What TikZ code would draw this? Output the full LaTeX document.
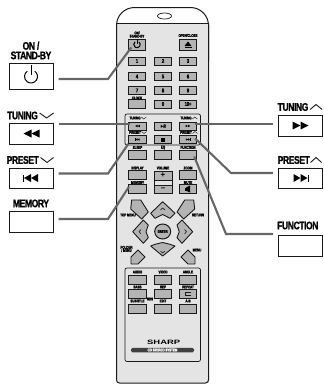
\documentclass[tikz,border=0pt]{standalone}
\usepackage{fontspec}
\setmainfont{Liberation Sans}
\newfontfamily\calloutfont[LetterSpace=-4,FakeStretch=0.78,FakeBold=1.2]{Liberation Sans Bold}
\newfontfamily\brandfont[FakeStretch=1.5]{Liberation Sans Bold}
\usetikzlibrary{arrows.meta, positioning, calc, shapes.geometric}
\definecolor{shellgray}{HTML}{E4E4E4}
\definecolor{keygray}{HTML}{B4B4B4}
\definecolor{leadergray}{HTML}{666666}
\definecolor{inkblack}{HTML}{1A1A1A}
\tikzset{
  callbox/.style={draw=inkblack, fill=white, line width=1pt, minimum width=44pt, minimum height=21pt, inner sep=0pt},
  calltext/.style={inner sep=0pt, align=center, text=black, font=\calloutfont\fontsize{11}{9.5}\selectfont},
  rkey/.style={draw=inkblack, fill=keygray, line width=0.9pt, minimum width=17.5pt, minimum height=8pt, inner sep=0pt, font=\calloutfont\fontsize{5.6}{5}\selectfont},
  tinytext/.style={inner sep=0pt, align=center, font=\calloutfont\fontsize{4}{3.2}\selectfont},
  leader/.style={draw=leadergray, line width=2.1pt},
  chevron/.style={draw=inkblack, line width=0.9pt},
  navkey/.style={draw=inkblack, fill=keygray, line width=0.9pt, line join=round},
  pics/rewind/.style={code={
    \fill (0,-4) -- (-8,0) -- (0,4) -- cycle;
    \fill (8,-4) -- (0,0) -- (8,4) -- cycle;
  }},
  pics/forward/.style={code={
    \fill (0,-4) -- (8,0) -- (0,4) -- cycle;
    \fill (-8,-4) -- (0,0) -- (-8,4) -- cycle;
  }},
  pics/skipback/.style={code={
    \fill (0,-4) -- (-7,0) -- (0,4) -- cycle;
    \fill (7,-4) -- (0,0) -- (7,4) -- cycle;
    \fill (-8,-3.5) rectangle (-7,3.5);
  }},
  pics/skipnext/.style={code={
    \fill (0,-4) -- (7,0) -- (0,4) -- cycle;
    \fill (-7,-4) -- (0,0) -- (-7,4) -- cycle;
    \fill (7,-3.5) rectangle (8,3.5);
  }},
  pics/standby/.style={code={
    \draw[line width=1pt] (0,-11.5) -- (0,-1.5);
    \draw[line width=1pt] (-55:6.5) arc[start angle=-55, end angle=235, radius=6.5];
  }}
}
\begin{document}
\begin{tikzpicture}[x=1pt, y=-1pt]
  \useasboundingbox (0,0) rectangle (324,384);

  % remote shell
  \draw[inkblack, line width=1pt, fill=white] (116.5,60) [rounded corners=18pt] -- (116.5,7.5) -- (208.5,7.5) [rounded corners=0pt] -- (208.5,60) -- cycle;
  \fill[shellgray] (116.5,23) rectangle (208.5,383);
  \draw[inkblack, line width=1pt] (116.5,23) -- (208.5,23);
  \draw[inkblack, line width=1pt] (116.5,23) -- (116.5,380) [rounded corners=3pt] -- (116.5,383) -- (208.5,383) [rounded corners=0pt] -- (208.5,23);
  \node[draw=inkblack, line width=0.7pt, ellipse, fill=white, minimum width=14pt, minimum height=6pt, inner sep=0pt] (sensor) at (164.5,16) {};

  % key frames
  \draw[inkblack, line width=0.7pt, rounded corners=2pt] (125,145) -- (125,114) -- (200.5,114) -- (200.5,145) -- cycle;
  \draw[inkblack, line width=0.7pt, rounded corners=2pt] (125,268) rectangle (200.5,361.5);

  % top keys
  \node[rkey, minimum height=11pt] (keyon) at (137,44.5) {};
  \node[rkey, minimum height=11pt] (keyopen) at (188,44.5) {};
  \pic[scale=0.5] at (137,44.5) {standby};
  \fill (188,41.5) -- (191.5,46) -- (184.5,46) -- cycle;
  \fill (184.5,47) rectangle (191.5,48);
  \node[tinytext] at (137,34.5) {ON/\\STAND-BY};
  \node[tinytext] at (188,35.5) {OPEN/CLOSE};

  % number keys
  \foreach \rowy/\lefttxt/\midtxt/\righttxt in {61/1/2/3, 76.5/4/5/6, 90.5/7/8/9} {
    \node[rkey] (keyl\lefttxt) at (137,\rowy) {\lefttxt};
    \node[rkey] (keym\midtxt) at (163,\rowy) {\midtxt};
    \node[rkey] (keyr\righttxt) at (188,\rowy) {\righttxt};
  }
  \node[rkey, minimum height=9pt] (keyshift) at (137,104) {};
  \node[rkey] (keyzero) at (163,104) {0};
  \node[rkey] (keyten) at (188,104) {10+};
  \node[tinytext] at (137,98) {CLOCK};

  % transport keys
  \node[rkey] (keyrew) at (137.5,126) {};
  \node[rkey, font=\calloutfont\fontsize{4.4}{4}\selectfont] (keyplay) at (163,126) {►/II};
  \node[rkey] (keyffw) at (188,126) {};
  \node[rkey] (keyprev) at (137.5,139.5) {};
  \node[rkey] (keystop) at (163,139.5) {};
  \node[rkey] (keynext) at (188,139.5) {};
  \pic[scale=0.3] at (137.5,126) {rewind};
  \pic[scale=0.3] at (188,126) {forward};
  \pic[scale=0.3] at (137.5,139.5) {skipback};
  \pic[scale=0.3] at (188,139.5) {skipnext};
  \fill (161,137.5) rectangle (165,141.5);
  \node[tinytext] (lbltune) at (135,118) {TUNING};
  \node[tinytext] (lbltunr) at (186,118) {TUNING};
  \node[tinytext] (lblpres) at (135,132.5) {PRESET};
  \node[tinytext] (lblprer) at (186,132.5) {PRESET};
  \draw[chevron, line width=0.5pt] ($(lbltune.east)+(0.5,-1)$) -- ++(2.5,2) -- ++(2.5,-2);
  \draw[chevron, line width=0.5pt] ($(lbltunr.east)+(0.5,1)$) -- ++(2.5,-2) -- ++(2.5,2);
  \draw[chevron, line width=0.5pt] ($(lblpres.east)+(0.5,-1)$) -- ++(2.5,2) -- ++(2.5,-2);
  \draw[chevron, line width=0.5pt] ($(lblprer.east)+(0.5,1)$) -- ++(2.5,-2) -- ++(2.5,2);

  % function row and volume
  \foreach \colx/\keytxt/\keyname in {137.5/SLEEP/sleep, 163/EQ/eq, 188/FUNCTION/func} {
    \node[rkey, minimum height=9pt] (key\keyname) at (\colx,154.5) {};
    \node[tinytext] at (\colx,147.5) {\keytxt};
  }
  \foreach \colx/\keytxt/\keyname in {137.5/DISPLAY/disp, 188/ZOOM/zoom} {
    \node[rkey, minimum height=9pt] (key\keyname) at (\colx,175) {};
    \node[tinytext] at (\colx,168) {\keytxt};
  }
  \node[rkey, minimum height=9pt] (keymem) at (137.5,189) {};
  \node[rkey, minimum height=9pt] (keymute) at (188,189) {};
  \node[tinytext] at (137.5,182.5) {MEMORY};
  \node[tinytext] at (188,182.5) {MUTE};
  \node[tinytext] at (163,168) {VOLUME};
  \draw[inkblack, line width=0.8pt, fill=keygray] (154,171) rectangle (172,193);
  \draw[inkblack, line width=0.8pt, fill=shellgray] (154,180) rectangle (172,185);
  \node[inner sep=0pt, font=\bfseries\fontsize{8}{8}\selectfont] (keyplus) at (163,175.2) {+};
  \node[inner sep=0pt, font=\bfseries\fontsize{8}{8}\selectfont] (keyminus) at (163,189) {--};
  \fill (184.5,187.5) rectangle (186.5,190.5);
  \fill (186,187.5) -- (190,185.5) -- (190,192.5) -- (186,190.5) -- cycle;

  % navigation keys
  \draw[navkey] (162.7,201.7) -- (175,213.3) -- (170,218.3) -- (162.7,214.5) -- (155,218.3) -- (150.7,213.3) -- cycle;
  \draw[navkey] (162.7,256) -- (175,246) -- (170,244.3) -- (162.7,242.5) -- (155,244.3) -- (150.7,246) -- cycle;
  \draw[navkey] (132.7,231.7) -- (143.3,220) -- (148.3,225) -- (146,231.7) -- (148.3,237.7) -- (143.3,243.3) -- cycle;
  \draw[navkey] (192.7,231.7) -- (182,220) -- (177,225) -- (179.3,231.7) -- (177,237.7) -- (182,243.3) -- cycle;
  \draw[navkey] (131.7,200) -- (140.7,200) -- (148.3,212) -- (141.7,219) -- (130.7,209) -- cycle;
  \draw[navkey] (193.7,200) -- (184.7,200) -- (177,212) -- (183.7,219) -- (194.7,209) -- cycle;
  \draw[navkey] (138,250) -- (131,257) -- (131,264) -- (138,264) -- (145,257) -- cycle;
  \draw[navkey] (188,250) -- (195,257) -- (195,264) -- (188,264) -- (181,257) -- cycle;
  \node[draw=inkblack, fill=keygray, ellipse, line width=1pt, minimum width=16pt, minimum height=15pt, inner sep=0pt, font=\calloutfont\fontsize{4}{3}\selectfont] (keyenter) at (162.7,231.5) {ENTER};
  \draw[chevron, line width=0.6pt] (160.5,210) -- (162.7,208) -- (165,210);
  \draw[chevron, line width=0.6pt] (160.5,251) -- (162.7,253) -- (165,251);
  \draw[chevron, line width=0.6pt] (141,229.5) -- (139,231.7) -- (141,234);
  \draw[chevron, line width=0.6pt] (184.5,229.5) -- (186.5,231.7) -- (184.5,234);
  \node[tinytext] at (128,215) {TOP MENU};
  \node[tinytext] at (198,215) {RETURN};
  \node[tinytext] at (126.5,249) {FOLDER\\/ MENU};
  \node[tinytext] at (197,250) {MENU};

  % lower keys
  \foreach \rowy/\labely/\txta/\txtb/\txtc [count=\rowi] in {279.5/272/AUDIO/VIDEO/ANGLE, 294/287/BASS/REP/REPEAT, 308.5/301/SUBTITLE/EDIT/A-B} {
    \node[rkey, minimum height=9pt] (keya\rowi) at (137.5,\rowy) {};
    \node[rkey, minimum height=9pt] (keyb\rowi) at (163,\rowy) {};
    \node[rkey, minimum height=9pt] (keyc\rowi) at (188,\rowy) {};
    \node[tinytext] at (137.5,\labely) {\txta};
    \node[tinytext] at (163,\labely) {\txtb};
    \node[tinytext] at (188,\labely) {\txtc};
  }
  \draw[inkblack, line width=0.6pt] (191,292.5) -- (185,292.5) -- (185,295.5) -- (191,295.5);
  \node[tinytext] at (150,299) {RDS};
  \node[inner sep=0pt, font=\brandfont\fontsize{6.3}{6.3}\selectfont] (brand) at (163.7,342) {SHARP};
  \node[fill=black!75, rounded corners=1.5pt, minimum width=63pt, minimum height=4.5pt, inner sep=0pt, text=white, font=\calloutfont\fontsize{4}{3.4}\selectfont] (brandbar) at (162.5,350) {CD STEREO SYSTEM};

  % left callouts
  \node[callbox, minimum height=26pt] (boxon) at (31,76) {};
  \pic at (31,76.5) {standby};
  \node[calltext, above=3pt of boxon] (txton) {ON /\\STAND-BY};
  \node[callbox] (boxrew) at (31,133.5) {};
  \pic at (31.5,133.5) {rewind};
  \node[calltext, anchor=west] (txtrew) at (7,115.5) {TUNING};
  \node[callbox, minimum height=20pt] (boxprev) at (31,178) {};
  \pic at (31,178) {skipback};
  \node[calltext, anchor=west] (txtprev) at (6.5,160) {PRESET};
  \node[callbox] (boxmem) at (31,221.5) {};
  \node[calltext, above=3pt of boxmem] (txtmem) {MEMORY};

  % right callouts
  \node[callbox] (boxffw) at (300.5,125.5) {};
  \pic at (300.5,125.5) {forward};
  \node[calltext, anchor=west] (txtffw) at (277.5,107) {TUNING};
  \node[callbox, minimum height=20pt] (boxnext) at (300.5,178) {};
  \pic at (300.5,178) {skipnext};
  \node[calltext, anchor=west] (txtnext) at (277.5,160) {PRESET};
  \node[callbox] (boxfunc) at (300.5,245.5) {};
  \node[calltext, anchor=west] (txtfunc) at (277,225.5) {FUNCTION};

  \draw[chevron] (txtrew.east) ++(1.5,-2.5) -- ++(7,5) -- ++(7,-5);
  \draw[chevron] (txtprev.east) ++(1.5,-2.5) -- ++(6.5,5) -- ++(6.5,-5);
  \draw[chevron] (txtffw.east) ++(1.5,2.5) -- ++(6,-5) -- ++(6,5);
  \draw[chevron] (txtnext.east) ++(0.5,2.5) -- ++(5.5,-5) -- ++(5.5,5);

  % leaders
  \coordinate (bendon) at (108,79);
  \coordinate (bendprev) at (108,173.5);
  \coordinate (bendmem) at (108,219);
  \coordinate (bendnext) at (231,173);
  \coordinate (bendfunc) at (226,234);
  \coordinate (tiprew) at (130,124);
  \coordinate (tipffw) at (195,124);
  \draw[leader, shorten <=5pt] (boxon.east |- bendon) -- (bendon) -- ($(keyon.south west)+(3.5,-3)$);
  \draw[leader, shorten <=5pt] (boxrew.east |- tiprew) -- (tiprew);
  \draw[leader, shorten <=5pt] (boxprev.east |- bendprev) -- (bendprev) -- (keyprev.south west);
  \draw[leader, shorten <=5pt] (boxmem.east |- bendmem) -- (bendmem) -- ($(keymem.west)+(0.5,-2)$);
  \draw[leader, shorten <=5pt] (boxffw.west |- tipffw) -- (tipffw);
  \draw[leader, shorten <=5pt] (boxnext.west |- bendnext) -- (bendnext) -- ($(keynext.east)+(-2,-1)$);
  \draw[leader, shorten <=5pt] (boxfunc.west |- bendfunc) -- (bendfunc) -- ($(keyfunc.east)+(-3,2)$);
\end{tikzpicture}
\end{document}
